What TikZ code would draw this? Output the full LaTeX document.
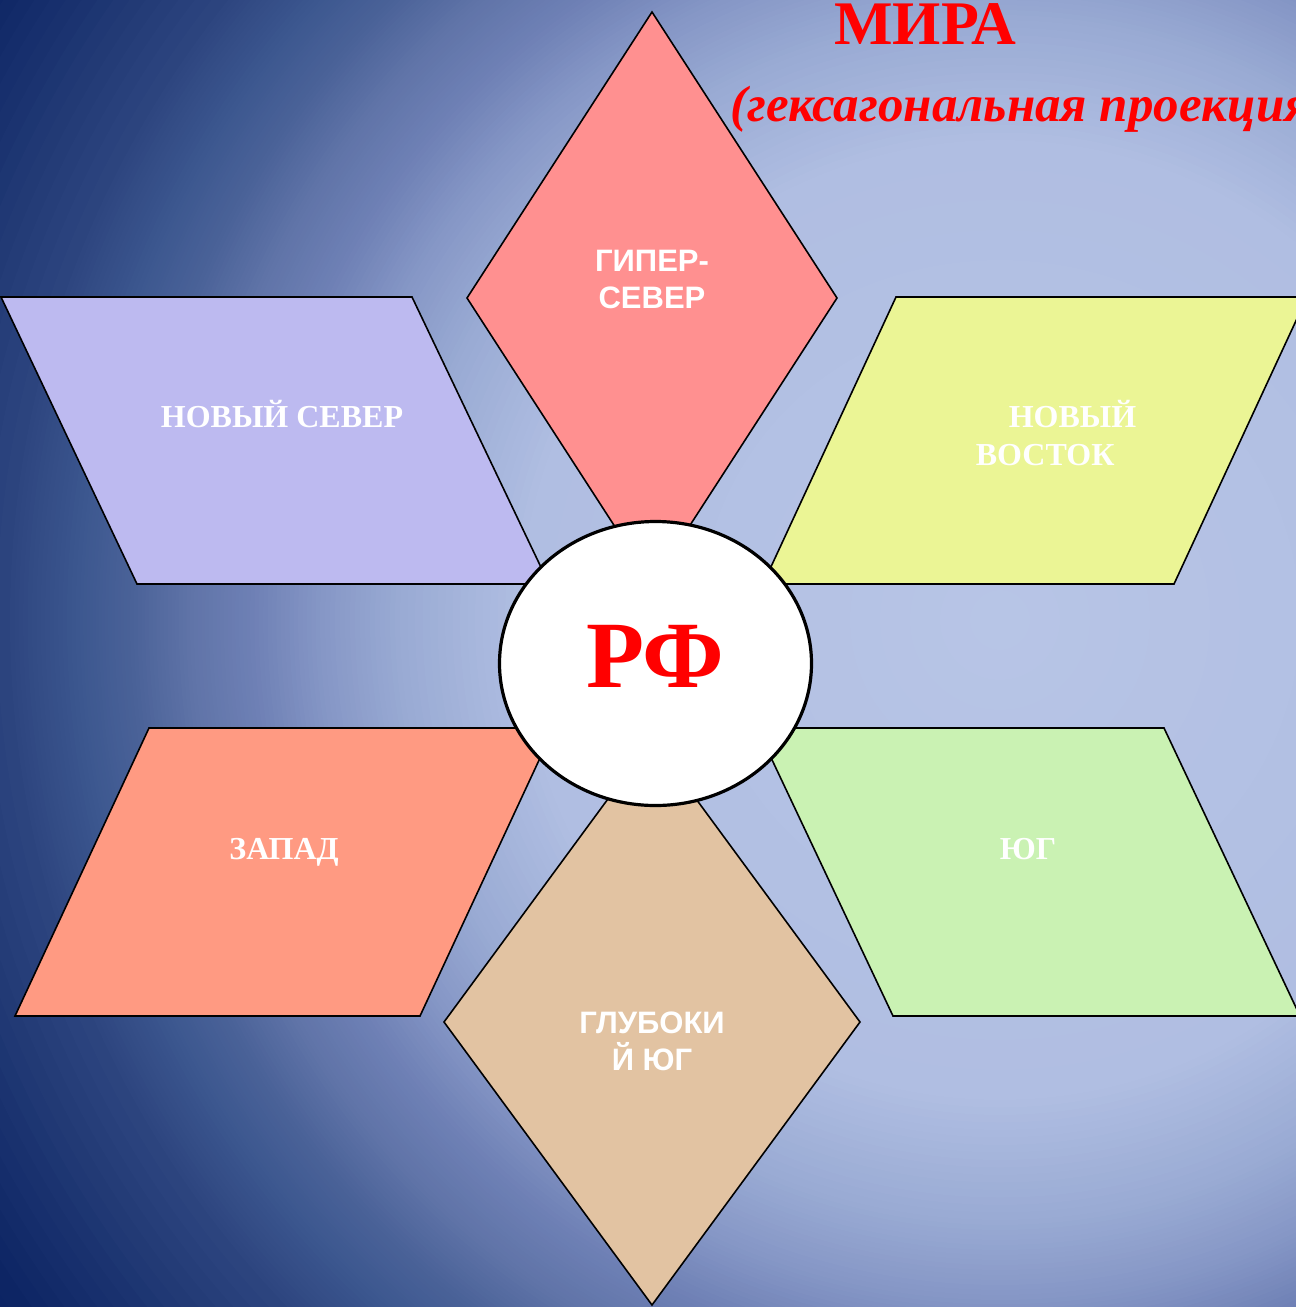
\documentclass[tikz,border=0pt]{standalone}
\usepackage{fontspec}
\setmainfont{Liberation Serif}
\newfontfamily\arialfont{Liberation Sans}
\usetikzlibrary{shapes.geometric}
\definecolor{gA}{HTML}{0A2262}
\definecolor{gB}{HTML}{0D2564}
\definecolor{gC}{HTML}{2E4680}
\definecolor{gD}{HTML}{3D5890}
\definecolor{gE}{HTML}{4A6298}
\definecolor{gF}{HTML}{6074A8}
\definecolor{gG}{HTML}{6E80B5}
\definecolor{gH}{HTML}{8697C6}
\definecolor{gI}{HTML}{9AABD4}
\definecolor{gJ}{HTML}{B0BEE2}
\definecolor{gK}{HTML}{B8C5E6}
\definecolor{cHyper}{HTML}{FF9090}
\definecolor{cNorth}{HTML}{BDBAF0}
\definecolor{cEast}{HTML}{EBF595}
\definecolor{cWest}{HTML}{FF9A82}
\definecolor{cSouth}{HTML}{CAF2B3}
\definecolor{cDeep}{HTML}{E2C3A2}
\definecolor{cRed}{HTML}{FF0000}
\begin{document}
\begin{tikzpicture}[x=1pt,y=-1pt,
  sector/.style={draw=black, line width=1.6pt, line join=miter},
  serlab/.style={text=white, font=\fontsize{32}{38}\selectfont\bfseries, inner sep=0pt},
  sanslab/.style={text=white, font=\arialfont\fontsize{31}{37}\selectfont\bfseries, inner sep=0pt, align=center},
  titlefont/.style={text=cRed, inner sep=0pt}]
\useasboundingbox (0,0) rectangle (1296,1307);
% background: radial gradient built from concentric discs
\begin{scope}
  \clip (0,0) rectangle (1296,1307);
  \foreach \ro/\ri/\co/\ci in {1250/1200/gA/gB, 1200/990/gB/gC, 990/920/gC/gD, 920/870/gD/gE,
      870/810/gE/gF, 810/750/gF/gG, 750/680/gG/gH, 680/600/gH/gI, 600/480/gI/gJ, 480/0/gJ/gK} {
    \foreach \k in {0,...,15} {
      \pgfmathsetmacro\rr{\ro-(\ro-\ri)*\k/16}
      \pgfmathsetmacro\pp{100*\k/16}
      \fill[color=\ci!\pp!\co] (1000,620) circle [radius=\rr pt];
    }
  }
\end{scope}
% parallelograms
\filldraw[sector, fill=cNorth] (1,297) -- (412,297) -- (549,584) -- (137,584) -- cycle;
\filldraw[sector, fill=cEast] (896,297) -- (1307,297) -- (1174,584) -- (763,584) -- cycle;
\filldraw[sector, fill=cWest] (149,728) -- (554,728) -- (420,1016) -- (15,1016) -- cycle;
\filldraw[sector, fill=cSouth] (757,728) -- (1164,728) -- (1300,1016) -- (893,1016) -- cycle;
% diamonds
\filldraw[sector, fill=cHyper] (652,12) -- (837,298) -- (652,584) -- (467,298) -- cycle;
\filldraw[sector, fill=cDeep] (652,739) -- (860,1022) -- (652,1305) -- (444,1022) -- cycle;
% labels
\node[serlab, anchor=base] (lnorth) at (282,427) {НОВЫЙ СЕВЕР};
\node[serlab, align=left] (least) at (1056,433) {\hspace*{33pt}НОВЫЙ\\ВОСТОК};
\node[serlab, anchor=base] (lwest) at (284,859) {ЗАПАД};
\node[serlab, anchor=base] (lsouth) at (1028,859) {ЮГ};
\node[sanslab] (lhyper) at (652,279) {ГИПЕР-\\СЕВЕР};
\node[sanslab] (ldeep) at (652,1041) {ГЛУБОКИ\\Й ЮГ};
% centre
\node[ellipse, draw=black, line width=3.2pt, fill=white, minimum width=312pt, minimum height=284pt, inner sep=0pt,
      text=cRed, font=\fontsize{95}{100}\selectfont\bfseries, text depth=14pt] (rf) at (655.5,663.5) {РФ};
% title
\node[titlefont, anchor=base, font=\fontsize{62}{70}\selectfont\bfseries] (mira) at (925,44) {МИРА};
\node[titlefont, anchor=base west, font=\fontsize{51}{58}\selectfont\bfseries\itshape] (proj) at (730,121) {(гексагональная проекция};
\end{tikzpicture}
\end{document}
